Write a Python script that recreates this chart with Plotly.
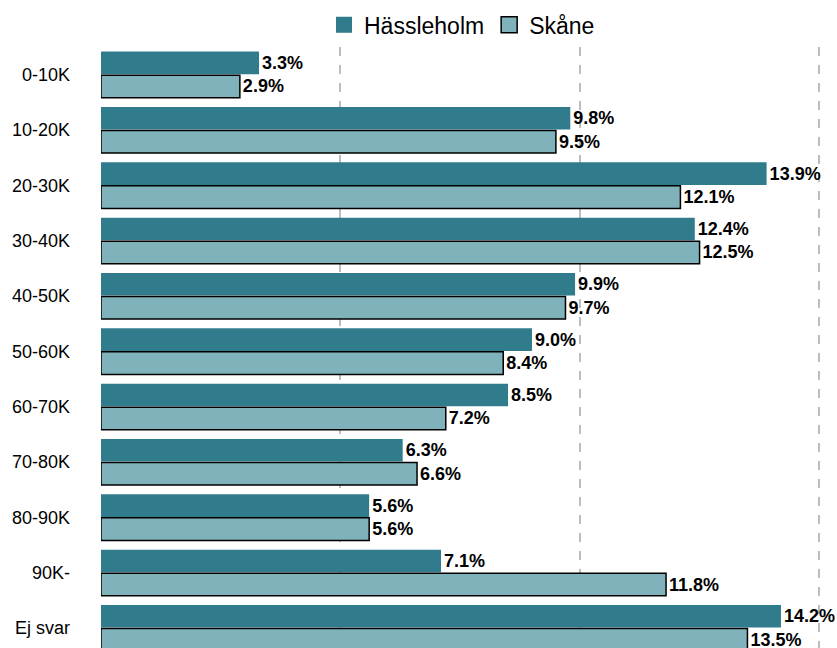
import plotly.graph_objects as go

categories = ["0-10K", "10-20K", "20-30K", "30-40K", "40-50K", "50-60K",
              "60-70K", "70-80K", "80-90K", "90K-", "Ej svar"]
hassleholm = [3.3, 9.8, 13.9, 12.4, 9.9, 9.0, 8.5, 6.3, 5.6, 7.1, 14.2]
skane = [2.9, 9.5, 12.1, 12.5, 9.7, 8.4, 7.2, 6.6, 5.6, 11.8, 13.5]

C_H = "#307b8c"
C_S = "#7fb2bb"
label_font = dict(family="Liberation Sans, Arial", size=18, color="black", weight="bold")

fig = go.Figure()
fig.add_trace(go.Bar(
    y=categories, x=hassleholm, orientation="h", name="Hässleholm",
    marker=dict(color=C_H, line=dict(color=C_H, width=0)),
    text=[f"{v:.1f}%" for v in hassleholm], textposition="outside",
    textfont=label_font, cliponaxis=False, showlegend=False,
))
fig.add_trace(go.Bar(
    y=categories, x=skane, orientation="h", name="Skåne",
    marker=dict(color=C_S, line=dict(color="black", width=1.5)),
    text=[f"{v:.1f}%" for v in skane], textposition="outside",
    textfont=label_font, cliponaxis=False, showlegend=False,
))
# legend entries
fig.add_trace(go.Scatter(x=[None], y=[None], mode="markers", name="Hässleholm",
                         marker=dict(symbol="square", size=16, color=C_H,
                                     line=dict(color=C_H, width=0))))
fig.add_trace(go.Scatter(x=[None], y=[None], mode="markers", name="Skåne",
                         marker=dict(symbol="square", size=16, color=C_S,
                                     line=dict(color="black", width=1.5))))

W, H = 837, 648
top_px = 47
fig.update_layout(
    width=W, height=H,
    margin=dict(l=101, r=0, t=0, b=0, autoexpand=False),
    plot_bgcolor="white", paper_bgcolor="white",
    barmode="group", bargap=0.15, bargroupgap=0.04,
    font=dict(family="Liberation Sans, Arial", color="black"),
    legend=dict(orientation="h", x=0.4905, xanchor="center", y=0.995, yanchor="top",
                font=dict(size=23), traceorder="normal", itemwidth=30,
                tracegroupgap=0),
    showlegend=True,
)
fig.update_xaxes(range=[0, 15.37], dtick=5, showticklabels=False,
                 showgrid=True, gridcolor="#bdbdbd", griddash="dash", gridwidth=1.5,
                 zeroline=False, showline=False, automargin=False)
fig.update_yaxes(type="category", range=[10.36, -0.5], showgrid=False,
                 domain=[0, 1 - top_px / H],
                 tickfont=dict(size=18), ticklabelstandoff=30, ticks="",
                 showline=False, automargin=False)

fig.write_html("out.html", config={"displayModeBar": False},
               post_script="document.body.style.margin='0';document.body.style.overflow='hidden';")
